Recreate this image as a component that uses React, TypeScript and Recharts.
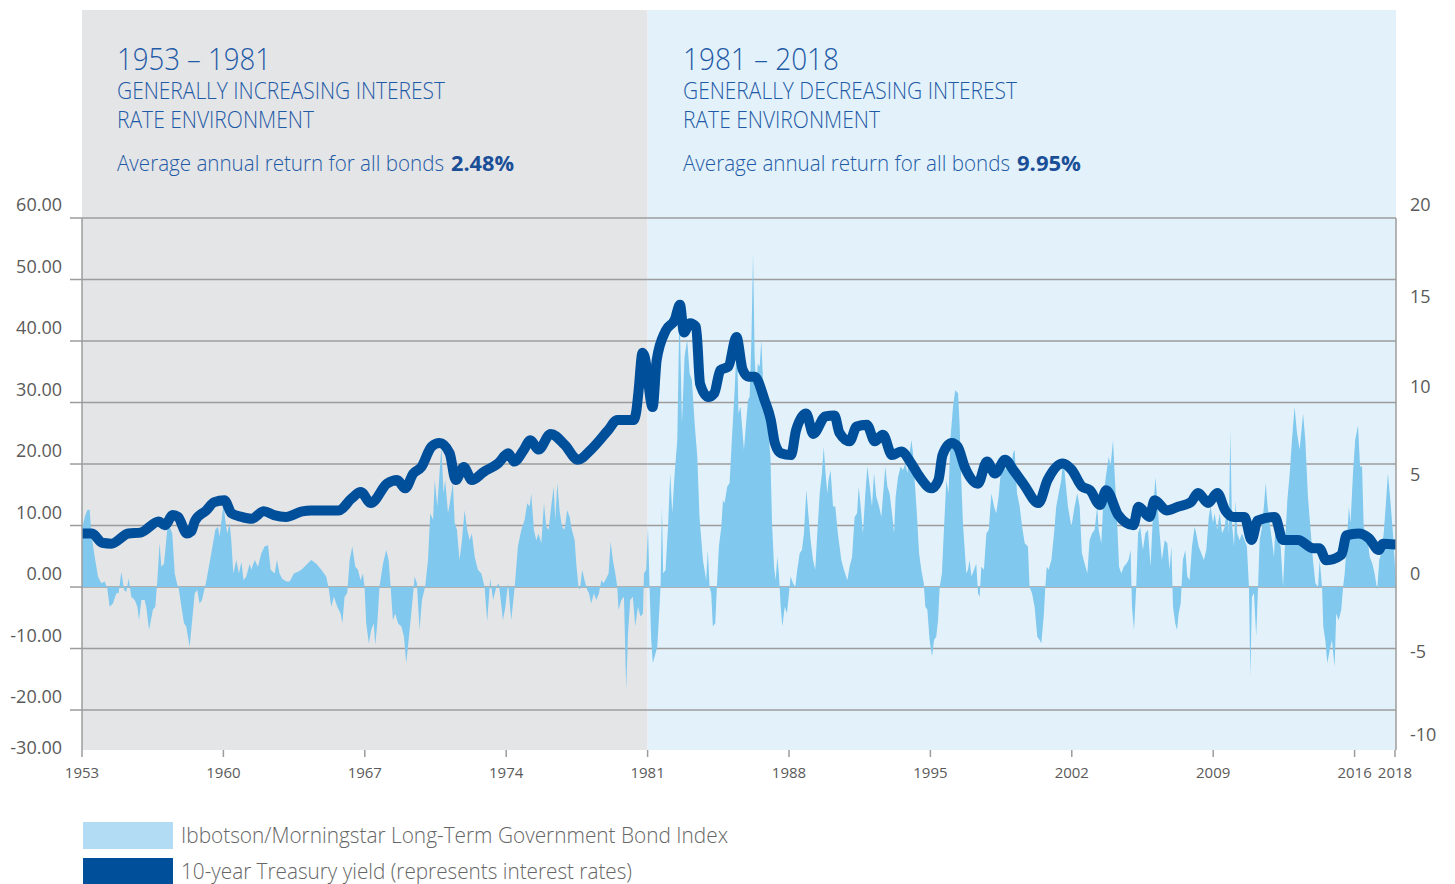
import React from "react";
import { ComposedChart, Area, Line, XAxis, YAxis, CartesianGrid, ReferenceArea } from "recharts";

// ---------- DATA ----------
const xTicks = [1953, 1960, 1967, 1974, 1981, 1988, 1995, 2002, 2009, 2016, 2018];
const xDomain: [number, number] = [1953, 2018.05];

const leftTicks = [60, 50, 40, 30, 20, 10, 0, -10, -20, -26.5];
const leftTickLabels = ["60.00", "50.00", "40.00", "30.00", "20.00", "10.00", "0.00", "-10.00", "-20.00", "-30.00"];
const leftDomain: [number, number] = [-26.5, 60];
const gridValues = [60, 50, 40, 30, 20, 10, 0, -10, -20];

const rightTicks = [20, 15, 10, 5, 0, -5, -8.833];
const rightTickLabels = ["20", "15", "10", "5", "0", "-5", "-10"];
const rightDomain: [number, number] = [-8.833, 20];

const periodStart = [1953, 1981];
const periodEnd = [1981, 2018.05];
const periodTitles = ["1953 \u2013 1981", "1981 \u2013 2018"];
const periodLine1 = ["GENERALLY INCREASING INTEREST", "GENERALLY DECREASING INTEREST"];
const periodLine2 = ["RATE ENVIRONMENT", "RATE ENVIRONMENT"];
const periodReturnText = "Average annual return for all bonds";
const periodReturns = ["2.48%", "9.95%"];
const headerTop = 93.8; // left-axis value at the top of the header band

const seriesNames = [
  "Ibbotson/Morningstar Long-Term Government Bond Index",
  "10-year Treasury yield (represents interest rates)",
];

// Ibbotson/Morningstar Long-Term Government Bond Index rolling return (%), [year, value]
const bondIndex: [number, number][] = [
  [1953.0, 9.5], [1953.15, 11.5], [1953.26, 12.5], [1953.38, 12.6], [1953.46, 8.7], [1953.63, 4.9], [1953.79, 1.7], [1953.96, 0.6],
  [1954.12, 0.9], [1954.25, -0.2], [1954.37, -3.2], [1954.53, -2.7], [1954.7, -1.0], [1954.81, -1.0], [1954.95, 2.5], [1955.08, -0.5],
  [1955.19, -0.8], [1955.31, 1.4], [1955.44, -1.6], [1955.61, -2.1], [1955.74, -3.2], [1955.82, -5.4], [1955.94, -2.1], [1956.1, -2.1],
  [1956.18, -3.2], [1956.32, -7.0], [1956.51, -3.7], [1956.63, -3.2], [1956.73, 1.1], [1956.84, 7.1], [1956.93, 3.3], [1957.06, 3.8],
  [1957.22, 9.3], [1957.34, 9.8], [1957.47, 8.7], [1957.59, 2.2], [1957.7, 0.6], [1957.8, -0.5], [1957.92, -3.2], [1958.05, -5.9],
  [1958.16, -6.4], [1958.33, -9.7], [1958.44, -5.9], [1958.58, -1.0], [1958.71, -0.5], [1958.82, -2.7], [1958.94, -2.1], [1959.16, 1.1],
  [1959.4, 5.5], [1959.6, 9.3], [1959.73, 9.8], [1959.81, 8.2], [1959.93, 11.4], [1960.01, 13.6], [1960.09, 10.9], [1960.19, 8.7],
  [1960.31, 10.4], [1960.39, 7.6], [1960.49, 2.2], [1960.64, 4.4], [1960.77, 2.2], [1960.89, 4.1], [1961.0, 1.1], [1961.13, 1.7],
  [1961.3, 3.8], [1961.38, 2.8], [1961.55, 4.4], [1961.71, 3.3], [1961.88, 5.5], [1962.04, 6.6], [1962.21, 6.8], [1962.34, 2.8],
  [1962.54, 2.2], [1962.65, 4.4], [1962.78, 2.2], [1962.9, 1.4], [1963.11, 0.9], [1963.28, 0.9], [1963.49, 2.2], [1963.69, 2.5],
  [1963.86, 2.8], [1964.1, 3.6], [1964.35, 4.4], [1964.6, 3.8], [1964.85, 2.8], [1965.09, 1.7], [1965.21, -0.2], [1965.34, -3.2],
  [1965.47, -1.6], [1965.64, -3.2], [1965.8, -4.3], [1965.89, -5.9], [1966.0, -1.6], [1966.13, -1.0], [1966.25, 4.4], [1966.38, 6.6],
  [1966.53, 3.3], [1966.66, 2.8], [1966.79, 1.1], [1966.91, 2.2], [1966.99, -0.2], [1967.07, -5.9], [1967.2, -9.2], [1967.32, -7.0],
  [1967.44, -5.9], [1967.52, -9.4], [1967.62, -5.9], [1967.73, 0.1], [1967.9, 3.8], [1968.06, 6.0], [1968.18, 4.4], [1968.28, 0],
  [1968.39, -5.4], [1968.51, -4.3], [1968.64, -5.9], [1968.81, -6.4], [1968.94, -8.1], [1969.05, -12.4], [1969.17, -8.6], [1969.3, -4.3],
  [1969.47, 1.7], [1969.58, 0.6], [1969.71, -7.0], [1969.83, -2.1], [1969.99, 0.1], [1970.13, 4.4], [1970.24, 12.0], [1970.38, 10.9],
  [1970.46, 17.4], [1970.59, 13.1], [1970.7, 18.5], [1970.79, 22.8], [1970.9, 15.2], [1970.98, 17.4], [1971.12, 12.0], [1971.23, 14.1],
  [1971.36, 16.9], [1971.45, 10.4], [1971.56, 9.3], [1971.69, 4.4], [1971.81, 7.6], [1971.94, 12.5], [1972.07, 9.3], [1972.19, 7.6],
  [1972.3, 8.7], [1972.44, 4.9], [1972.6, 2.8], [1972.77, 2.2], [1972.93, 0], [1973.06, -5.6], [1973.21, 1.4], [1973.35, -2.1],
  [1973.51, 0], [1973.63, 0.6], [1973.73, -2.1], [1973.84, -5.4], [1973.96, -3.2], [1974.09, 0.6], [1974.25, -5.4], [1974.42, 0],
  [1974.58, 6.6], [1974.75, 9.3], [1974.91, 10.9], [1975.04, 13.6], [1975.16, 13.1], [1975.24, 15.2], [1975.37, 9.3], [1975.49, 7.6],
  [1975.6, 8.7], [1975.74, 7.1], [1975.87, 13.6], [1975.98, 9.8], [1976.1, 9.3], [1976.23, 13.1], [1976.35, 16.3], [1976.43, 10.9],
  [1976.53, 16.9], [1976.64, 12.5], [1976.76, 9.8], [1976.89, 9.3], [1977.02, 12.5], [1977.14, 11.4], [1977.25, 9.3], [1977.39, 7.6],
  [1977.47, 3.8], [1977.58, 0], [1977.65, -0.5], [1977.76, 2.8], [1977.88, 1.1], [1978.01, -0.5], [1978.1, -1.0], [1978.21, -2.7],
  [1978.34, -1.0], [1978.46, -2.1], [1978.59, -1.0], [1978.71, 1.1], [1978.82, 0.6], [1978.95, 1.4], [1979.07, 2.2], [1979.17, 7.4],
  [1979.28, 4.4], [1979.4, 2.2], [1979.5, 0], [1979.56, -3.7], [1979.7, -2.1], [1979.83, -1.6], [1979.94, -16.7], [1980.03, -7.5],
  [1980.14, -2.1], [1980.27, -1.6], [1980.39, -6.4], [1980.52, -3.2], [1980.65, -4.8], [1980.77, -4.3], [1980.82, 2.2], [1980.93, 2.8],
  [1981.02, 9.8], [1981.1, -0.5], [1981.18, -8.6], [1981.26, -12.4], [1981.35, -11.3], [1981.48, -9.7], [1981.59, -3.2], [1981.64, 0],
  [1981.71, 13.1], [1981.77, 2.2], [1981.89, 2.8], [1982.01, 9.8], [1982.12, 18.5], [1982.22, 12.0], [1982.34, 18.5], [1982.47, 23.9],
  [1982.58, 45.6], [1982.7, 26.6], [1982.83, 37.5], [1982.96, 40.2], [1983.08, 34.7], [1983.19, 33.7], [1983.33, 26.6], [1983.46, 21.2],
  [1983.57, 11.4], [1983.74, 4.4], [1983.9, 1.1], [1983.98, 6.0], [1984.07, 0], [1984.15, -1.0], [1984.23, -6.4], [1984.35, -5.9],
  [1984.43, 0], [1984.53, 6.6], [1984.65, 9.8], [1984.73, 14.1], [1984.81, 13.6], [1984.94, 16.3], [1985.06, 16.9], [1985.17, 23.9],
  [1985.31, 32.0], [1985.42, 40.2], [1985.5, 28.2], [1985.6, 29.3], [1985.77, 22.3], [1985.89, 27.2], [1985.97, 30.4], [1986.05, 30.9],
  [1986.14, 40.2], [1986.22, 54.3], [1986.3, 37.5], [1986.38, 32.6], [1986.46, 36.4], [1986.55, 35.8], [1986.63, 40.2], [1986.71, 33.7],
  [1986.83, 31.5], [1986.96, 26.1], [1987.08, 21.2], [1987.16, 10.4], [1987.26, 3.3], [1987.34, 1.1], [1987.42, 4.9], [1987.5, 2.2],
  [1987.59, -3.2], [1987.67, -6.4], [1987.79, -3.2], [1987.9, -4.3], [1988.0, -1.0], [1988.08, 1.7], [1988.2, 0.6], [1988.31, 0],
  [1988.41, 2.8], [1988.53, 5.5], [1988.64, 6.0], [1988.74, 8.7], [1988.86, 15.8], [1988.97, 11.4], [1989.07, 7.6], [1989.19, 4.4],
  [1989.3, 2.8], [1989.4, 8.7], [1989.52, 15.2], [1989.63, 18.5], [1989.72, 22.8], [1989.81, 18.5], [1989.9, 15.2], [1989.96, 17.4],
  [1990.06, 19.0], [1990.18, 13.1], [1990.29, 13.1], [1990.42, 8.7], [1990.59, 4.4], [1990.72, 2.8], [1990.89, 1.1], [1991.0, 3.3],
  [1991.12, 4.9], [1991.25, 11.4], [1991.37, 12.0], [1991.45, 16.3], [1991.55, 13.1], [1991.66, 8.7], [1991.78, 15.2], [1991.88, 19.6],
  [1992.0, 16.3], [1992.11, 13.1], [1992.21, 18.5], [1992.32, 14.7], [1992.46, 13.1], [1992.57, 11.4], [1992.69, 16.3], [1992.77, 19.6],
  [1992.87, 16.3], [1992.98, 15.2], [1993.1, 12.0], [1993.2, 8.7], [1993.28, 14.7], [1993.4, 17.9], [1993.53, 19.6], [1993.64, 19.0],
  [1993.76, 20.1], [1993.86, 18.5], [1993.97, 21.7], [1994.06, 23.9], [1994.14, 21.7], [1994.22, 17.4], [1994.34, 11.4], [1994.44, 5.5],
  [1994.55, 2.8], [1994.67, 0.6], [1994.75, -3.2], [1994.85, -3.7], [1994.96, -8.6], [1995.08, -11.3], [1995.18, -8.6], [1995.29, -8.1],
  [1995.38, -5.4], [1995.46, 0], [1995.57, 2.2], [1995.67, 9.3], [1995.79, 17.4], [1995.9, 15.2], [1996.0, 24.4], [1996.12, 29.3],
  [1996.23, 32.0], [1996.37, 31.5], [1996.45, 26.1], [1996.53, 17.4], [1996.61, 10.4], [1996.7, 6.0], [1996.78, 2.2], [1996.86, 2.8],
  [1996.94, 4.4], [1997.03, 1.7], [1997.16, 2.8], [1997.27, 3.8], [1997.36, -1.0], [1997.44, -1.6], [1997.52, 3.3], [1997.65, 2.8],
  [1997.77, 8.7], [1997.89, 9.3], [1998.02, 15.2], [1998.15, 13.1], [1998.26, 12.0], [1998.38, 14.7], [1998.48, 18.5], [1998.59, 21.2],
  [1998.71, 19.0], [1998.84, 20.7], [1998.97, 18.5], [1999.09, 21.7], [1999.17, 22.3], [1999.29, 15.2], [1999.42, 13.1], [1999.54, 9.8],
  [1999.67, 7.1], [1999.83, 6.6], [1999.91, 0], [2000.03, -1.0], [2000.16, -3.2], [2000.29, -8.1], [2000.41, -8.6], [2000.49, -9.2],
  [2000.61, -4.8], [2000.69, 0], [2000.76, 3.3], [2000.85, 2.8], [2000.99, 4.4], [2001.12, 8.7], [2001.23, 13.1], [2001.35, 15.2],
  [2001.48, 17.4], [2001.58, 21.2], [2001.68, 17.4], [2001.81, 13.1], [2001.98, 9.8], [2002.14, 13.1], [2002.27, 15.2], [2002.39, 13.1],
  [2002.5, 5.5], [2002.64, 3.8], [2002.77, 2.2], [2002.88, 7.6], [2003.0, 8.7], [2003.13, 9.3], [2003.26, 13.1], [2003.33, 9.3],
  [2003.46, 7.1], [2003.58, 15.2], [2003.71, 18.5], [2003.83, 21.2], [2003.92, 19.6], [2004.04, 23.9], [2004.12, 18.5], [2004.24, 10.9],
  [2004.34, 3.3], [2004.45, 2.2], [2004.57, 3.3], [2004.7, 3.8], [2004.81, 4.4], [2004.91, 6.0], [2004.98, -3.2], [2005.08, -7.0],
  [2005.19, 0], [2005.28, 8.7], [2005.39, 9.8], [2005.52, 6.0], [2005.64, 8.7], [2005.77, 9.3], [2005.9, 3.3], [2006.02, 12.0],
  [2006.14, 17.9], [2006.23, 14.1], [2006.35, 8.7], [2006.46, 4.4], [2006.6, 7.6], [2006.73, 7.1], [2006.84, 2.8], [2006.93, 6.6],
  [2007.01, -3.2], [2007.12, -5.9], [2007.21, -7.0], [2007.29, -4.3], [2007.39, -2.7], [2007.5, 4.4], [2007.62, 6.0], [2007.72, 1.7],
  [2007.83, 1.1], [2007.95, 6.6], [2008.08, 9.8], [2008.16, 8.7], [2008.28, 6.6], [2008.41, 5.5], [2008.54, 4.4], [2008.66, 6.0],
  [2008.78, 11.4], [2008.87, 13.1], [2008.99, 10.4], [2009.07, 12.0], [2009.2, 9.3], [2009.32, 12.0], [2009.44, 8.7], [2009.57, 9.8],
  [2009.7, 13.1], [2009.77, 8.7], [2009.85, 25.5], [2009.93, 10.4], [2010.03, 6.6], [2010.11, 14.1], [2010.19, 8.7], [2010.31, 7.6],
  [2010.42, 8.7], [2010.56, 7.6], [2010.67, 6.6], [2010.77, 0], [2010.84, -14.6], [2010.92, -1.6], [2011.02, -1.0], [2011.13, -8.1],
  [2011.22, 0], [2011.3, 7.6], [2011.42, 9.8], [2011.51, 13.1], [2011.6, 16.9], [2011.68, 13.6], [2011.79, 10.4], [2011.91, 7.6],
  [2012.01, 4.9], [2012.08, 9.8], [2012.21, 7.6], [2012.34, 6.6], [2012.46, 0], [2012.54, 6.0], [2012.67, 14.1], [2012.79, 18.5],
  [2012.9, 23.9], [2013.03, 29.3], [2013.15, 25.0], [2013.28, 22.3], [2013.45, 28.2], [2013.56, 23.9], [2013.69, 14.7], [2013.82, 9.3],
  [2013.94, 4.4], [2014.06, 0.6], [2014.19, 0], [2014.27, 4.4], [2014.39, 0], [2014.45, -6.4], [2014.55, -8.6], [2014.65, -12.4],
  [2014.77, -10.2], [2014.88, -8.6], [2015.01, -13.0], [2015.09, -4.3], [2015.21, -5.4], [2015.34, -3.7], [2015.43, 0], [2015.51, 2.2],
  [2015.62, 7.6], [2015.72, 13.1], [2015.8, 10.4], [2015.92, 18.5], [2016.03, 23.9], [2016.17, 26.3], [2016.27, 19.6], [2016.37, 19.6],
  [2016.45, 9.8], [2016.53, 8.7], [2016.61, 8.7], [2016.75, 4.9], [2016.88, 3.8], [2016.99, 2.2], [2017.12, -0.5], [2017.22, 4.4],
  [2017.32, 5.5], [2017.44, 8.7], [2017.54, 13.1], [2017.65, 18.5], [2017.77, 14.1], [2017.9, 8.7], [2017.98, 4.4], [2018.04, 0.5],
];

// 10-year Treasury yield (%), [year, value]
const treasuryYield: [number, number][] = [
  [1953.0, 2.9], [1953.5, 2.9], [1954.0, 2.4], [1954.45, 2.35], [1955.3, 2.9], [1955.9, 2.95], [1956.8, 3.55], [1957.1, 3.35],
  [1957.5, 3.9], [1957.75, 3.8], [1958.2, 2.9], [1958.4, 3.0], [1958.6, 3.6], [1959.15, 4.15], [1959.55, 4.6], [1960.05, 4.7],
  [1960.4, 4.0], [1960.9, 3.8], [1961.4, 3.7], [1962.0, 4.1], [1962.5, 3.9], [1963.1, 3.8], [1963.9, 4.1], [1964.35, 4.15],
  [1965.7, 4.15], [1966.35, 4.8], [1966.8, 5.15], [1967.3, 4.55], [1968.1, 5.6], [1968.6, 5.8], [1969.0, 5.35], [1969.4, 6.15],
  [1969.8, 6.5], [1970.3, 7.6], [1970.7, 7.8], [1971.2, 7.25], [1971.5, 5.8], [1971.9, 6.5], [1972.3, 5.8], [1972.9, 6.25],
  [1973.6, 6.7], [1974.1, 7.25], [1974.4, 6.8], [1974.85, 7.4], [1975.2, 7.95], [1975.6, 7.45], [1976.2, 8.3], [1976.9, 7.7],
  [1977.55, 6.9], [1978.2, 7.45], [1979.05, 8.5], [1979.5, 9.05], [1980.3, 9.05], [1980.45, 9.6], [1980.55, 10.6], [1980.75, 12.7],
  [1980.85, 12.5], [1981.25, 9.75], [1981.45, 12.3], [1981.9, 13.9], [1982.35, 14.5], [1982.6, 15.3], [1982.8, 13.8], [1983.1, 14.3],
  [1983.4, 14.1], [1983.6, 11.0], [1984.0, 10.3], [1984.3, 10.5], [1984.6, 11.75], [1985.0, 11.95], [1985.4, 13.55], [1985.7, 11.8],
  [1986.0, 11.4], [1986.3, 11.4], [1986.8, 10.1], [1987.1, 9.05], [1987.3, 7.8], [1987.6, 7.25], [1988.1, 7.15], [1988.35, 8.5],
  [1988.85, 9.4], [1989.2, 8.3], [1989.8, 9.25], [1990.25, 9.3], [1990.5, 8.35], [1991.0, 7.9], [1991.35, 8.7], [1991.85, 8.8],
  [1992.25, 7.9], [1992.65, 8.25], [1993.1, 7.15], [1993.55, 7.35], [1994.05, 6.7], [1994.45, 6.0], [1995.05, 5.35], [1995.4, 5.8],
  [1995.6, 7.15], [1996.05, 7.8], [1996.35, 7.6], [1996.7, 6.5], [1997.35, 5.6], [1997.8, 6.8], [1998.2, 6.15], [1998.7, 6.9],
  [1999.1, 6.35], [1999.6, 5.6], [2000.35, 4.55], [2000.8, 5.8], [2001.55, 6.7], [2002.0, 6.35], [2002.5, 5.45], [2002.9, 5.25],
  [2003.4, 4.45], [2003.7, 5.25], [2004.3, 3.9], [2005.05, 3.35], [2005.3, 4.35], [2005.85, 3.8], [2006.1, 4.7], [2006.7, 4.15],
  [2007.25, 4.35], [2007.9, 4.6], [2008.25, 5.1], [2008.75, 4.55], [2009.2, 5.1], [2009.6, 4.15], [2010.0, 3.8], [2010.55, 3.8],
  [2010.9, 2.55], [2011.2, 3.6], [2012.05, 3.8], [2012.45, 2.55], [2013.2, 2.55], [2013.95, 2.1], [2014.25, 2.1], [2014.6, 1.45],
  [2015.35, 1.75], [2015.6, 2.8], [2016.2, 2.9], [2016.7, 2.65], [2017.2, 2.0], [2017.4, 2.35], [2018.0, 2.3],
];

// ---------- STYLE ----------
const W = 1455;
const H = 884;
const FONT = "'Open Sans', 'Noto Sans', sans-serif";
const AXIS_GRAY = "#9c9c9c";
const TICK_TEXT = "#5a5a5a";
const BAND_COLORS = ["#e4e5e7", "#e3f2fa"];
const BOND_COLOR = "#80c8ee";
const BOND_LEGEND = "#b2dcf4";
const YIELD_COLOR = "#004f9b";
const HEADER_BLUE = "#1f5aa6";
const HEADER_BOLD = "#1a4f98";
const RIGHT_LABEL_DY = [-7, -7, -10, -14, -7, -21, -9];

const bondData = bondIndex.map(([year, value]) => ({ year, value }));
const yieldData = treasuryYield.map(([year, value]) => ({ year, value }));

const LeftTick = (props: any) => {
  const { x, y, payload } = props;
  const i = leftTicks.indexOf(payload.value);
  const isBottom = i === leftTicks.length - 1;
  return (
    <g>
      {!isBottom && <line x1={x + 8} x2={x + 20} y1={y} y2={y} stroke={AXIS_GRAY} strokeWidth={1.5} />}
      <text x={x} y={y} dy={isBottom ? 4 : -7} textAnchor="end" fontSize={18} fill={TICK_TEXT} fontFamily={FONT}>
        {leftTickLabels[i]}
      </text>
    </g>
  );
};

const RightTick = (props: any) => {
  const { x, y, payload } = props;
  const i = rightTicks.indexOf(payload.value);
  return (
    <text x={x} y={y} dy={RIGHT_LABEL_DY[i]} textAnchor="start" fontSize={18} fill={TICK_TEXT} fontFamily={FONT}>
      {rightTickLabels[i]}
    </text>
  );
};

const headerX = [117, 683];
const titleLen = [154, 156];
const line1Len = [328, 334];
const line2Len = [197, 197];
const returnTextLen = [327, 327];
const returnNumX = [451, 1017];
const returnNumLen = [63, 64];

export default function App() {
  return (
    <div style={{ position: "absolute", left: 0, top: 0, width: W, height: H, background: "#fff" }}>
      <ComposedChart width={W} height={H} margin={{ top: 218, right: 0, bottom: 104, left: 0 }}>
        {periodStart.map((s, i) => (
          <ReferenceArea
            key={"band" + i}
            yAxisId="left"
            x1={s}
            x2={periodEnd[i]}
            y1={leftDomain[0]}
            y2={headerTop}
            ifOverflow="visible"
            fill={BAND_COLORS[i]}
            fillOpacity={1}
            stroke="none"
            {...({ zIndex: -200 } as any)}
          />
        ))}
        <CartesianGrid
          yAxisId="left"
          vertical={false}
          horizontalValues={gridValues}
          stroke={AXIS_GRAY}
          strokeWidth={1.5}
        />
        <XAxis
          type="number"
          dataKey="year"
          domain={xDomain}
          ticks={xTicks}
          interval={0}
          allowDataOverflow
          height={30}
          tickSize={7}
          tickMargin={10}
          axisLine={false}
          tickLine={{ stroke: AXIS_GRAY, strokeWidth: 1.5 }}
          tick={{ fontSize: 15, fill: TICK_TEXT, fontFamily: FONT }}
        />
        <YAxis
          yAxisId="left"
          orientation="left"
          width={82}
          domain={leftDomain}
          ticks={leftTicks}
          interval={0}
          allowDataOverflow
          tickSize={12}
          tickMargin={8}
          tickLine={false}
          axisLine={{ stroke: AXIS_GRAY, strokeWidth: 1.5 }}
          tick={<LeftTick />}
        />
        <YAxis
          yAxisId="right"
          orientation="right"
          width={59}
          domain={rightDomain}
          ticks={rightTicks}
          interval={0}
          allowDataOverflow
          tickSize={0}
          tickMargin={14}
          tickLine={false}
          axisLine={{ stroke: AXIS_GRAY, strokeWidth: 1.5 }}
          tick={<RightTick />}
        />
        <Area
          yAxisId="left"
          data={bondData}
          dataKey="value"
          type="linear"
          baseValue={0}
          fill={BOND_COLOR}
          fillOpacity={1}
          stroke="none"
          isAnimationActive={false}
          name={seriesNames[0]}
        />
        <Line
          yAxisId="right"
          data={yieldData}
          dataKey="value"
          type="monotone"
          stroke={YIELD_COLOR}
          strokeWidth={10}
          strokeLinejoin="round"
          strokeLinecap="round"
          dot={false}
          activeDot={false}
          isAnimationActive={false}
          name={seriesNames[1]}
        />
      </ComposedChart>
      <svg width={W} height={H} style={{ position: "absolute", left: 0, top: 0, pointerEvents: "none" }}>
        {headerX.map((x, i) => (
          <g key={"hdr" + i} fontFamily={FONT} fill={HEADER_BLUE} fontWeight={300}>
            <text x={x} y={70} fontSize={31} textLength={titleLen[i]} lengthAdjust="spacingAndGlyphs">
              {periodTitles[i]}
            </text>
            <text x={x} y={99} fontSize={23} textLength={line1Len[i]} lengthAdjust="spacingAndGlyphs">
              {periodLine1[i]}
            </text>
            <text x={x} y={128} fontSize={23} textLength={line2Len[i]} lengthAdjust="spacingAndGlyphs">
              {periodLine2[i]}
            </text>
            <text x={x} y={171} fontSize={22} textLength={returnTextLen[i]} lengthAdjust="spacingAndGlyphs">
              {periodReturnText}
            </text>
            <text x={returnNumX[i]} y={171} fontSize={22} fontWeight={700} fill={HEADER_BOLD} textLength={returnNumLen[i]} lengthAdjust="spacingAndGlyphs">
              {periodReturns[i]}
            </text>
          </g>
        ))}
        <rect x={83} y={822} width={90} height={27} fill={BOND_LEGEND} />
        <text x={181} y={843} fontSize={22} fill="#666" fontFamily={FONT} fontWeight={300} textLength={547} lengthAdjust="spacingAndGlyphs">
          {seriesNames[0]}
        </text>
        <rect x={83} y={858} width={90} height={26} fill={YIELD_COLOR} />
        <text x={181} y={879} fontSize={22} fill="#666" fontFamily={FONT} fontWeight={300} textLength={451} lengthAdjust="spacingAndGlyphs">
          {seriesNames[1]}
        </text>
      </svg>
    </div>
  );
}
